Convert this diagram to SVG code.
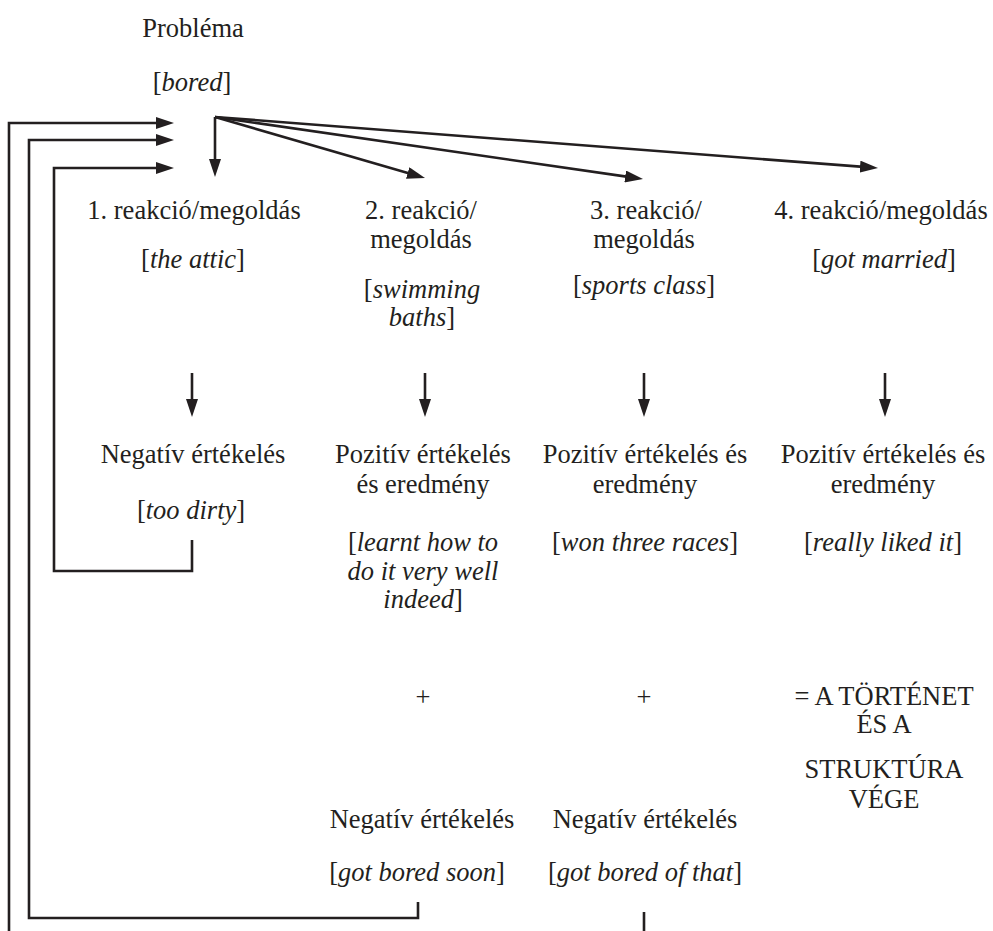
<svg xmlns="http://www.w3.org/2000/svg" width="993" height="931" viewBox="0 0 993 931">
  <style>
    text { font-family: "Liberation Serif", "Times New Roman", serif; font-size: 26.5px; fill: #231f20; text-anchor: middle; }
    .it { font-style: italic; }
    .wire { fill: none; stroke: #231f20; stroke-width: 2.6; stroke-linecap: butt; stroke-linejoin: miter; }
    .arrow { marker-end: url(#head); }
  </style>
  <defs>
    <marker id="head" markerUnits="userSpaceOnUse" markerWidth="18" markerHeight="12" refX="10" refY="6" orient="auto">
      <path d="M0,0 L18,6 L0,12 z" fill="#231f20"/>
    </marker>
  </defs>

  <rect width="993" height="931" fill="#ffffff"/>

  <!-- connectors -->
  <g id="connectors">
    <!-- fan from the problem to each reaction -->
    <line class="wire arrow" x1="215" y1="117" x2="215" y2="169"/>
    <line class="wire arrow" x1="215" y1="117" x2="417.3" y2="175.8"/>
    <line class="wire arrow" x1="215" y1="117" x2="635.1" y2="177.9"/>
    <line class="wire arrow" x1="215" y1="117" x2="870" y2="167.4"/>
    <!-- vertical arrows reaction -> evaluation -->
    <line class="wire arrow" x1="192" y1="373" x2="192" y2="409"/>
    <line class="wire arrow" x1="425" y1="373" x2="425" y2="409"/>
    <line class="wire arrow" x1="644" y1="373" x2="644" y2="409"/>
    <line class="wire arrow" x1="885" y1="373" x2="885" y2="409"/>
    <!-- feedback loops back to the problem -->
    <polyline class="wire arrow" points="192,540 192,571 54,571 54,168 166,168"/>
    <polyline class="wire arrow" points="418,902 418,918 29,918 29,140 166,140"/>
    <polyline class="wire arrow" points="9,931 9,123 166,123"/>
    <line class="wire" x1="644" y1="912" x2="644" y2="931"/>
  </g>

  <g id="problem">
    <text x="193" y="37">Probléma</text>
    <text x="192" y="91">[<tspan class="it">bored</tspan>]</text>
  </g>

  <g id="reaction-1">
    <text x="194" y="219">1. reakció/megoldás</text>
    <text x="193" y="268">[<tspan class="it">the attic</tspan>]</text>
  </g>
  <g id="reaction-2">
    <text x="421" y="219">2. reakció/</text>
    <text x="421" y="248">megoldás</text>
    <text x="422" y="298">[<tspan class="it">swimming</tspan></text>
    <text x="422" y="326"><tspan class="it">baths</tspan>]</text>
  </g>
  <g id="reaction-3">
    <text x="646" y="219">3. reakció/</text>
    <text x="644" y="248">megoldás</text>
    <text x="644" y="294">[<tspan class="it">sports class</tspan>]</text>
  </g>
  <g id="reaction-4">
    <text x="881" y="219">4. reakció/megoldás</text>
    <text x="884" y="268">[<tspan class="it">got married</tspan>]</text>
  </g>

  <g id="evaluation-1">
    <text x="193" y="463">Negatív értékelés</text>
    <text x="191" y="519">[<tspan class="it">too dirty</tspan>]</text>
  </g>
  <g id="evaluation-2">
    <text x="423" y="463">Pozitív értékelés</text>
    <text x="423" y="493">és eredmény</text>
    <text x="423" y="551">[<tspan class="it">learnt how to</tspan></text>
    <text x="423" y="580" class="it">do it very well</text>
    <text x="423" y="608"><tspan class="it">indeed</tspan>]</text>
  </g>
  <g id="evaluation-3">
    <text x="645" y="463">Pozitív értékelés és</text>
    <text x="645" y="493">eredmény</text>
    <text x="645" y="551">[<tspan class="it">won three races</tspan>]</text>
  </g>
  <g id="evaluation-4">
    <text x="883" y="463">Pozitív értékelés és</text>
    <text x="883" y="493">eredmény</text>
    <text x="883" y="551">[<tspan class="it">really liked it</tspan>]</text>
  </g>

  <g id="plus-2">
    <text x="423" y="706">+</text>
  </g>
  <g id="plus-3">
    <text x="644" y="706">+</text>
  </g>
  <g id="story-end">
    <text x="884" y="705">= A TÖRTÉNET</text>
    <text x="884" y="733">ÉS A</text>
    <text x="884" y="778">STRUKTÚRA</text>
    <text x="884" y="808">VÉGE</text>
  </g>

  <g id="second-evaluation-2">
    <text x="422" y="828">Negatív értékelés</text>
    <text x="417" y="881">[<tspan class="it">got bored soon</tspan>]</text>
  </g>
  <g id="second-evaluation-3">
    <text x="645" y="828">Negatív értékelés</text>
    <text x="645" y="881">[<tspan class="it">got bored of that</tspan>]</text>
  </g>
</svg>
